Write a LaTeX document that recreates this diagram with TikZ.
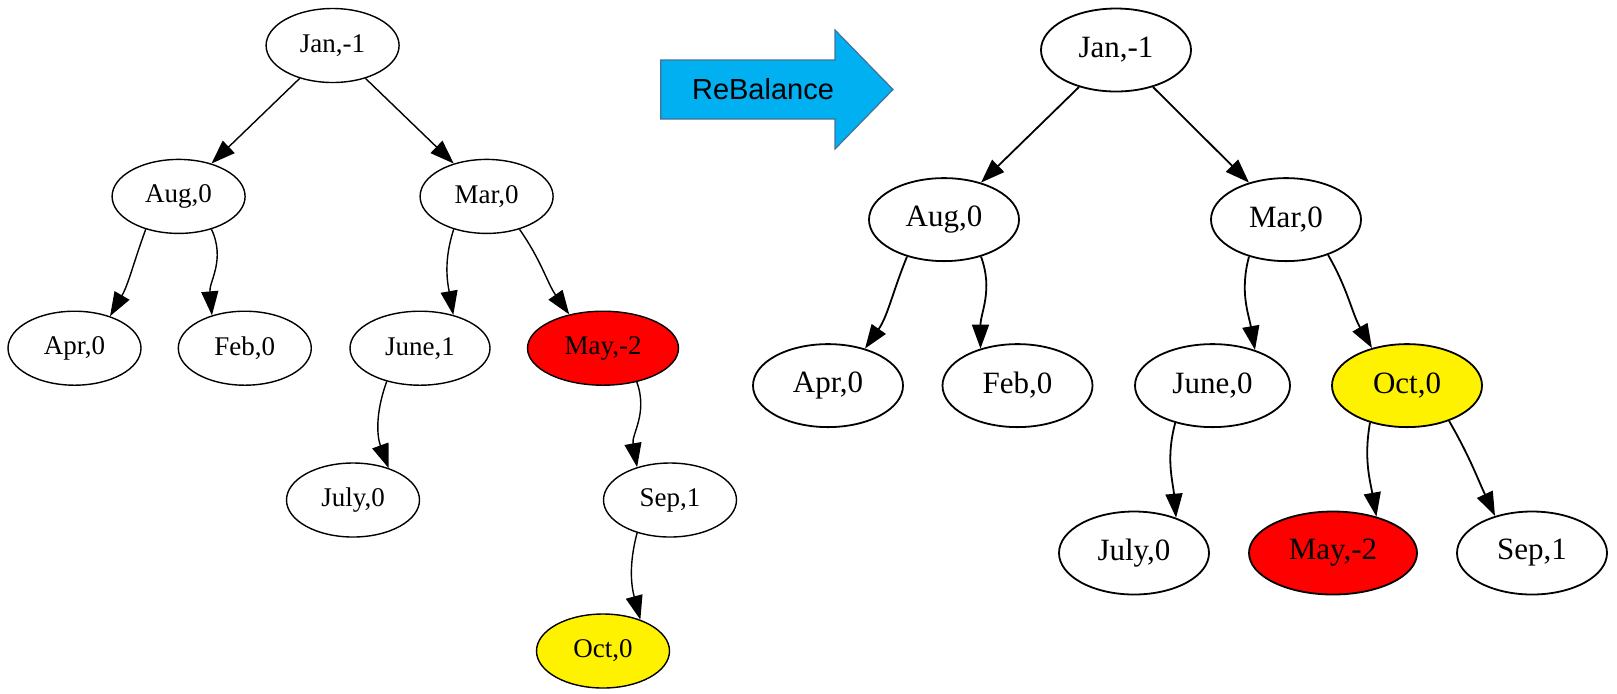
\documentclass[tikz,border=0pt]{standalone}
\usepackage{fontspec}
\setmainfont{Liberation Serif}
\newfontfamily\arrowfont{Liberation Sans}
\usetikzlibrary{arrows.meta,shapes.geometric}
\definecolor{rebalblue}{RGB}{0,176,240}
\definecolor{rebaledge}{RGB}{65,113,156}
\tikzset{
  lnode/.style={draw, ellipse, line width=0.7pt, inner sep=0pt, minimum width=66.5pt, minimum height=37pt, font=\fontsize{13.5}{16}\selectfont},
  rnode/.style={draw, ellipse, line width=0.9pt, inner sep=0pt, minimum width=75pt, minimum height=41.5pt, font=\fontsize{15.5}{18}\selectfont},
  ledge/.style={line width=0.7pt, -{Triangle[length=12pt,width=8.5pt]}},
  redge/.style={line width=0.9pt, -{Triangle[length=12pt,width=8.5pt]}},
}
\begin{document}
\begin{tikzpicture}[x=0.5pt,y=-0.5pt]
\useasboundingbox (0,0) rectangle (1617,693);

% Draw the left tree
\node[lnode] (ljan) at (332.6,45.5) {Jan,-1};
\node[lnode] (laug) at (178.6,196.4) {Aug,0};
\node[lnode] (lmar) at (486.6,196.4) {Mar,0};
\node[lnode] (lapr) at (74.5,348.2) {Apr,0};
\node[lnode] (lfeb) at (244.8,348.2) {Feb,0};
\node[lnode, minimum width=70pt] (ljune) at (420,348.2) {June,1};
\node[lnode, minimum width=75.5pt, fill=red] (lmay) at (603,348.2) {May,-2};
\node[lnode] (ljuly) at (353,500) {July,0};
\node[lnode] (lsep) at (670,500) {Sep,1};
\node[lnode, fill=yellow] (loct) at (603,651) {Oct,0};

% Draw the edges of the left tree
\draw[ledge] (ljan.-135) -- (laug.45);
\draw[ledge] (ljan.-45) -- (lmar.135);
\foreach \a/\sa/\b/\ta/\o/\i in {laug/-135/lapr/42/-110/60, laug/-45/lfeb/135/-65/95,
    lmar/-135/ljune/45/-108/100, lmar/-45/lmay/135/-55/125, ljune/-135/ljuly/42/-110/110,
    lmay/-45/lsep/135/-70/100, lsep/-135/loct/40/-105/105} {
  \draw[ledge] (\a.\sa) to[out=\o,in=\i] (\b.\ta);
}

% Draw the ReBalance arrow
\draw[fill=rebalblue, draw=rebaledge, line width=0.6pt] (660.7,60) -- (835,60) -- (835,30) -- (893,89.5)
  -- (835,149) -- (835,119) -- (660.7,119) -- cycle;
\node[font=\arrowfont\fontsize{14.5}{17}\selectfont] (rebal) at (763,89) {ReBalance};

% Draw the right tree
\node[rnode] (rjan) at (1116,50) {Jan,-1};
\node[rnode] (raug) at (944,219.6) {Aug,0};
\node[rnode] (rmar) at (1286,219.6) {Mar,0};
\node[rnode] (rapr) at (828,385.6) {Apr,0};
\node[rnode] (rfeb) at (1017.5,385.6) {Feb,0};
\node[rnode, minimum width=77.5pt] (rjune) at (1212.5,385.6) {June,0};
\node[rnode, fill=yellow] (roct) at (1407,385.6) {Oct,0};
\node[rnode] (rjuly) at (1134,553) {July,0};
\node[rnode, minimum width=84pt, fill=red] (rmay) at (1333,553) {May,-2};
\node[rnode] (rsep) at (1532,553) {Sep,1};

% Draw the edges of the right tree
\draw[redge] (rjan.-135) -- (raug.45);
\draw[redge] (rjan.-45) -- (rmar.135);
\foreach \a/\sa/\b/\ta/\o/\i in {raug/-135/rapr/45/-112/55, raug/-45/rfeb/135/-70/90,
    rmar/-135/rjune/40/-105/100, rmar/-40/roct/133/-60/120, rjune/-135/rjuly/40/-105/95,
    roct/-135/rmay/40/-100/100, roct/-40/rsep/135/-60/115} {
  \draw[redge] (\a.\sa) to[out=\o,in=\i] (\b.\ta);
}
\end{tikzpicture}
\end{document}
